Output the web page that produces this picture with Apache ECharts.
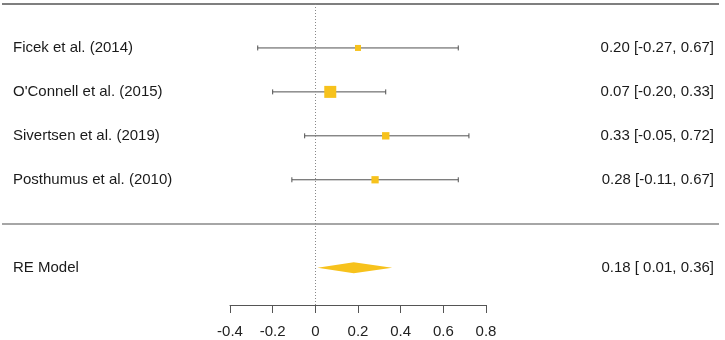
<!DOCTYPE html>
<html>
<head>
<meta charset="utf-8">
<script src="https://cdn.jsdelivr.net/npm/echarts@6/dist/echarts.min.js"></script>
<style>
  html, body { margin: 0; padding: 0; background: #fff; }
  #chart { width: 725px; height: 340px; }
</style>
</head>
<body>
<div id="chart"></div>
<script>
// study data
const studies = ['Ficek et al. (2014)', "O'Connell et al. (2015)", 'Sivertsen et al. (2019)', 'Posthumus et al. (2010)']
const estimates = [0.20, 0.07, 0.33, 0.28]
const lowers = [-0.27, -0.20, -0.05, -0.11]
const uppers = [0.67, 0.33, 0.72, 0.67]
const weights = [14.1, 44.4, 21.0, 20.5]

// pooled model
const modelLabel = 'RE Model'
const modelEst = 0.18
const modelLower = 0.01
const modelUpper = 0.36

const xTicks = [-0.4, -0.2, 0, 0.2, 0.4, 0.6, 0.8]

const FONT = 'Liberation Sans, Arial, sans-serif'
const YELLOW = '#F7C21C'
const GREY = '#555'

// rows: studies from k down to 1, model at -1
const rows = studies.map((s, i) => studies.length - i)
const modelRow = -1

function ciText(e, lo, hi, pad) {
  return e.toFixed(2) + ' [' + (pad && lo >= 0 ? ' ' : '') + lo.toFixed(2) + ', ' + hi.toFixed(2) + ']'
}

const wMin = Math.min(...weights)
const wMax = Math.max(...weights)
const markerSize = (w) => 12 * (0.5 + 0.5 * (w - wMin) / (wMax - wMin))

const ciData = studies.map((s, i) => [lowers[i], uppers[i], rows[i]])
const pointData = studies.map((s, i) => ({ value: [estimates[i], rows[i]], symbolSize: markerSize(weights[i]) }))

const leftTexts = studies.map((s, i) => [0, rows[i], s]).concat([[0, modelRow, modelLabel]])
const rightTexts = studies.map((s, i) => [1, rows[i], ciText(estimates[i], lowers[i], uppers[i], false)])
  .concat([[1, modelRow, ciText(modelEst, modelLower, modelUpper, true)]])

const chart = echarts.init(document.getElementById('chart'), null, { renderer: 'canvas' })

const yRange = { min: -1.85, max: 5 }

const option = {
  backgroundColor: '#fff',
  animation: false,
  grid: [
    { left: 230, right: 239, top: 4, height: 301, outerBoundsMode: 'none' },
    { left: 2, right: 6, top: 4, height: 301, outerBoundsMode: 'none' }
  ],
  xAxis: [
    {
      gridIndex: 0, type: 'value', min: -0.4, max: 0.8, interval: 0.2,
      position: 'bottom',
      axisLine: { show: true, onZero: false, lineStyle: { color: GREY, width: 1 } },
      axisTick: { show: true, inside: false, length: 8, lineStyle: { color: GREY } },
      axisLabel: {
        margin: 19, fontSize: 15, fontFamily: FONT, color: '#222',
        formatter: (v) => {
          const r = Math.round(v * 10) / 10
          return xTicks.includes(r) ? String(r) : ''
        }
      },
      splitLine: { show: false }
    },
    { gridIndex: 1, type: 'value', min: 0, max: 1, show: false }
  ],
  yAxis: [
    { gridIndex: 0, type: 'value', min: yRange.min, max: yRange.max, show: false, splitLine: { show: false } },
    { gridIndex: 1, type: 'value', min: yRange.min, max: yRange.max, show: false, splitLine: { show: false } }
  ],
  series: [
    // horizontal rules across the whole plot
    {
      type: 'line', xAxisIndex: 1, yAxisIndex: 1, data: [], silent: true,
      markLine: {
        silent: true, symbol: 'none', label: { show: false }, animation: false,
        data: [
          { yAxis: 5, lineStyle: { color: '#555', width: 1.6, type: 'solid' } },
          { yAxis: 0, lineStyle: { color: '#888', width: 1.6, type: 'solid' } }
        ]
      }
    },
    // dotted zero line
    {
      type: 'line', xAxisIndex: 0, yAxisIndex: 0, data: [], silent: true,
      markLine: {
        silent: true, symbol: 'none', label: { show: false }, animation: false,
        data: [{ xAxis: 0, lineStyle: { color: '#888', width: 1, type: [1, 2] } }]
      }
    },
    // confidence intervals
    {
      type: 'custom', xAxisIndex: 0, yAxisIndex: 0, data: ciData, silent: true,
      renderItem: (params, api) => {
        const a = api.coord([api.value(0), api.value(2)])
        const b = api.coord([api.value(1), api.value(2)])
        const cap = 2.5
        const st = { stroke: '#505050', lineWidth: 1 }
        return {
          type: 'group',
          children: [
            { type: 'line', shape: { x1: a[0], y1: a[1], x2: b[0], y2: b[1] }, style: st },
            { type: 'line', shape: { x1: a[0], y1: a[1] - cap, x2: a[0], y2: a[1] + cap }, style: st },
            { type: 'line', shape: { x1: b[0], y1: b[1] - cap, x2: b[0], y2: b[1] + cap }, style: st }
          ]
        }
      }
    },
    // point estimates
    {
      type: 'scatter', xAxisIndex: 0, yAxisIndex: 0, symbol: 'rect',
      data: pointData, itemStyle: { color: YELLOW, opacity: 1 }, silent: true
    },
    // pooled diamond
    {
      type: 'custom', xAxisIndex: 0, yAxisIndex: 0, silent: true,
      data: [[modelLower, modelEst, modelUpper, modelRow]],
      renderItem: (params, api) => {
        const y = api.value(3)
        const l = api.coord([api.value(0), y])
        const m = api.coord([api.value(1), y])
        const r = api.coord([api.value(2), y])
        const h = 5.5
        return {
          type: 'polygon',
          shape: { points: [[l[0], l[1]], [m[0], m[1] - h], [r[0], r[1]], [m[0], m[1] + h]] },
          style: { fill: YELLOW, stroke: null }
        }
      }
    },
    // study labels, left
    {
      type: 'custom', xAxisIndex: 1, yAxisIndex: 1, data: leftTexts, silent: true,
      renderItem: (params, api) => {
        const p = api.coord([api.value(0), api.value(1)])
        return {
          type: 'text', x: p[0] + 11, y: p[1],
          style: { text: leftTexts[params.dataIndex][2], fill: '#1a1a1a', font: '15px ' + FONT, align: 'left', verticalAlign: 'middle' }
        }
      }
    },
    // estimate [CI] labels, right
    {
      type: 'custom', xAxisIndex: 1, yAxisIndex: 1, data: rightTexts, silent: true,
      renderItem: (params, api) => {
        const p = api.coord([api.value(0), api.value(1)])
        return {
          type: 'text', x: p[0] - 5, y: p[1],
          style: { text: rightTexts[params.dataIndex][2], fill: '#1a1a1a', font: '15px ' + FONT, align: 'right', verticalAlign: 'middle' }
        }
      }
    }
  ]
}

chart.setOption(option)
</script>
</body>
</html>
